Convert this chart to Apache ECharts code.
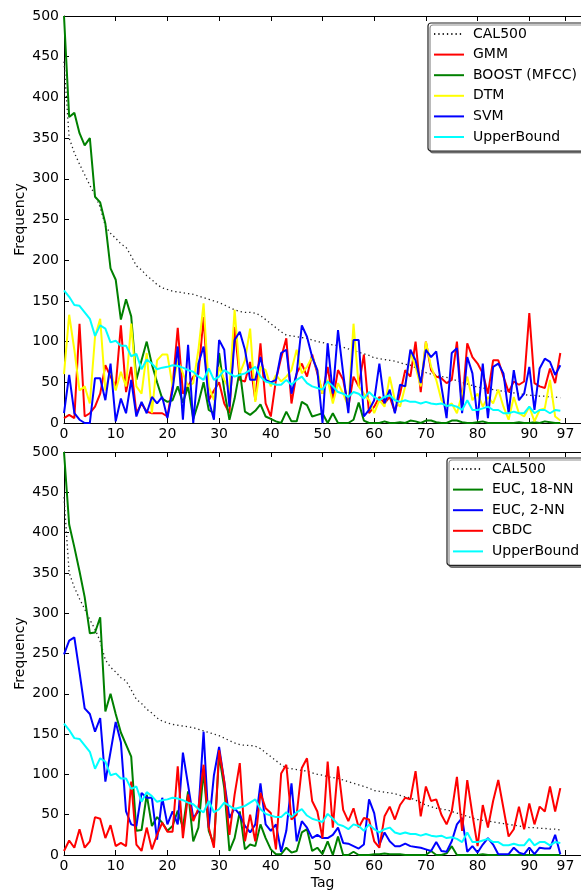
<!DOCTYPE html>
<html><head><meta charset="utf-8">
<script src="https://cdn.jsdelivr.net/npm/echarts@6/dist/echarts.min.js"></script>
<style>html,body{margin:0;padding:0;background:#fff}#c{width:581px;height:891px}</style>
</head><body><div id="c"></div>
<script>
const tags = Array.from({length: 97}, (_, i) => i);
const xTickLabels = [0, 10, 20, 30, 40, 50, 60, 70, 80, 90, 97];
const yTickLabels = [0, 50, 100, 150, 200, 250, 300, 350, 400, 450, 500];

const cal500 = [444,350,332,318,305,292,280,265,242,233,227,220,216,205,193,188,181,176,170,166,164,162,161,160,159,158,156,154,152,150,148,145,142,139,137,136,136,135,132,127,122,117,112,108,107,106,105,104,102,100,99,97,96,95,93,91,89,87,85,83,80,79,78,77,76,74,72,71,68,65,62,60,58,57,56,54,52,50,48,46,44,43,42,41,40,39,38,37,36,35,34,34,33,33,32,32,31];
const upperBound = [163,155,145,144,136,128,107,120,116,99,101,95,95,82,85,66,78,73,66,68,69,71,70,68,65,63,57,53,67,53,57,65,61,57,59,61,65,69,57,51,49,47,47,53,47,53,57,49,45,43,41,51,45,38,36,32,38,36,30,38,32,28,32,34,28,26,28,26,26,24,26,24,23,24,21,22,20,16,28,16,16,18,20,16,16,12,12,14,12,12,20,12,16,16,12,16,15];

// top panel
const gmm = [6,10,6,122,8,12,20,36,71,57,45,120,38,69,12,24,14,12,12,12,8,45,117,36,45,57,60,130,28,40,50,24,12,118,53,51,75,28,98,24,8,53,80,104,24,61,73,57,84,61,36,69,28,65,53,20,57,45,84,12,20,32,24,32,14,36,65,57,100,38,100,65,57,55,49,53,100,20,98,81,73,61,36,77,77,57,38,51,47,51,135,49,45,43,67,49,86];
const boost = [500,376,381,356,341,350,278,271,245,190,176,127,152,131,53,77,100,72,50,30,26,28,45,25,45,5,25,50,16,12,86,40,4,30,65,14,10,15,23,8,5,2,0,14,2,2,26,22,8,10,12,0,12,0,0,0,4,25,3,0,0,0,2,0,0,1,0,3,2,0,3,3,1,0,0,3,3,1,0,0,1,2,0,0,0,0,0,0,1,0,0,1,0,2,1,0,0];
const dtm = [60,133,90,40,45,24,106,128,40,65,40,63,45,122,45,36,86,12,77,84,84,45,77,61,45,49,90,147,45,28,69,53,41,139,61,77,116,26,69,65,45,59,51,57,65,90,61,69,81,65,36,53,24,49,36,20,122,45,36,28,12,28,20,57,28,20,45,86,69,45,100,69,53,28,20,24,12,36,57,28,36,20,32,24,41,20,4,32,12,8,20,2,16,18,53,8,3];
const svm = [12,59,12,4,0,0,55,55,28,73,2,30,12,53,8,26,12,32,24,32,6,40,94,4,96,0,73,94,28,4,102,90,20,102,112,90,53,53,81,53,50,53,86,90,36,61,120,106,81,65,0,98,36,114,61,12,102,102,8,16,28,73,24,41,12,47,45,90,77,49,90,81,88,45,6,86,92,12,81,61,4,73,6,69,73,61,12,65,28,36,69,16,67,79,75,59,71];

// bottom panel
const euc18 = [500,410,382,352,320,275,276,295,178,200,175,152,137,122,30,31,75,36,47,40,30,36,55,34,79,17,34,104,30,13,124,83,5,21,54,7,13,11,38,21,7,1,1,9,3,5,28,32,5,9,1,17,0,23,0,0,4,0,0,0,1,1,2,1,1,1,0,0,0,0,0,5,0,0,2,11,0,0,0,0,0,1,0,0,0,0,0,0,0,0,0,0,0,0,0,0,0];
const euc2 = [249,266,270,227,182,175,153,170,91,128,165,140,54,38,36,77,71,71,19,71,38,54,38,127,87,46,54,153,34,99,134,91,46,58,50,36,28,38,89,38,30,38,4,30,89,17,42,34,21,25,21,21,25,34,15,14,11,8,13,69,52,13,28,17,11,11,14,11,10,9,7,5,16,5,4,17,38,46,4,11,3,13,21,13,1,1,1,9,3,1,9,1,9,8,8,25,1];
const cbdc = [5,18,9,32,9,17,47,45,21,37,11,15,11,91,13,5,34,7,25,40,29,29,110,21,75,42,58,112,34,9,130,91,25,75,114,17,50,17,77,58,52,7,101,112,44,50,108,120,67,54,21,116,34,110,56,42,58,34,46,44,17,9,48,60,44,62,71,69,104,48,85,67,69,50,38,54,97,30,93,50,11,62,34,67,93,58,23,32,60,32,64,38,60,54,85,54,83];

const FONT = 'DejaVu Sans';
const TXT = '#000';
const pairs = arr => tags.map((t, i) => [t, arr[i]]);

function mkLine(name, arr, color, gi, dotted) {
  return {
    type: 'line', name, xAxisIndex: gi * 2, yAxisIndex: gi,
    data: pairs(arr), symbol: 'none', animation: false,
    lineStyle: dotted ? {color: '#222', width: 1.3, type: [1.3, 3]} : {color, width: 2},
    itemStyle: {color: dotted ? '#222' : color},
    emphasis: {disabled: true}
  };
}

function xAxes(gi) {
  const base = {
    type: 'value', gridIndex: gi, min: 0, max: 100, interval: 10,
    splitLine: {show: false},
    axisLine: {show: true, onZero: false, lineStyle: {color: '#000', width: 1}},
    axisTick: {show: true, inside: true, length: 5, customValues: xTickLabels, lineStyle: {color: '#000'}}
  };
  return [
    Object.assign({}, base, {position: 'bottom',
      axisLabel: {show: true, margin: 4, customValues: xTickLabels, color: TXT, fontFamily: FONT, fontSize: 14},
      name: gi === 1 ? 'Tag' : '', nameLocation: 'middle', nameGap: 21, nameMoveOverlap: false,
      nameTextStyle: {color: TXT, fontFamily: FONT, fontSize: 14}}),
    Object.assign({}, base, {position: 'top', axisLabel: {show: false}})
  ];
}

function yAxis(gi) {
  return {
    type: 'value', gridIndex: gi, min: 0, max: 500, interval: 50,
    splitLine: {show: false},
    axisLine: {show: true, lineStyle: {color: '#000', width: 1}},
    axisTick: {show: true, inside: true, length: 5, lineStyle: {color: '#000'}},
    axisLabel: {margin: 5, color: TXT, fontFamily: FONT, fontSize: 14},
    name: 'Frequency', nameLocation: 'middle', nameGap: 37, nameMoveOverlap: false,
    nameTextStyle: {color: TXT, fontFamily: FONT, fontSize: 14}
  };
}

function legend(names, left, top) {
  return {
    data: names, left, top, orient: 'vertical', selectedMode: false,
    itemWidth: 30, itemHeight: 14, itemGap: 6.6,
    padding: [4, 22, 7, 5],
    backgroundColor: '#fff', borderColor: '#222', borderWidth: 1.2, borderRadius: 3,
    shadowColor: 'rgba(0,0,0,0.45)', shadowOffsetX: 2, shadowOffsetY: 2, shadowBlur: 0,
    itemStyle: {opacity: 0},
    textStyle: {color: TXT, fontFamily: FONT, fontSize: 14, padding: [0, 0, 0, 4]}
  };
}

const chart = echarts.init(document.getElementById('c'), null, {renderer: 'canvas'});
chart.setOption({
  backgroundColor: '#fff',
  animation: false,
  grid: [
    {left: 64, top: 16, width: 526, height: 407},
    {left: 64, top: 452, width: 526, height: 405.5}
  ],
  xAxis: [...xAxes(0), ...xAxes(1)],
  yAxis: [yAxis(0), yAxis(1)],
  legend: [
    legend(['CAL500', 'GMM', 'BOOST (MFCC)', 'DTM', 'SVM', 'UpperBound'], 428, 23),
    legend(['CAL500', 'EUC, 18-NN', 'EUC, 2-NN', 'CBDC', 'UpperBound'], 447, 458)
  ],
  series: [
    mkLine('CAL500', cal500, '#222', 0, true),
    mkLine('GMM', gmm, '#ff0000', 0),
    mkLine('BOOST (MFCC)', boost, '#008000', 0),
    mkLine('DTM', dtm, '#ffff00', 0),
    mkLine('SVM', svm, '#0000ff', 0),
    mkLine('UpperBound', upperBound, '#00ffff', 0),
    mkLine('CAL500', cal500, '#222', 1, true),
    mkLine('EUC, 18-NN', euc18, '#008000', 1),
    mkLine('EUC, 2-NN', euc2, '#0000ff', 1),
    mkLine('CBDC', cbdc, '#ff0000', 1),
    mkLine('UpperBound', upperBound, '#00ffff', 1)
  ]
});
</script></body></html>
